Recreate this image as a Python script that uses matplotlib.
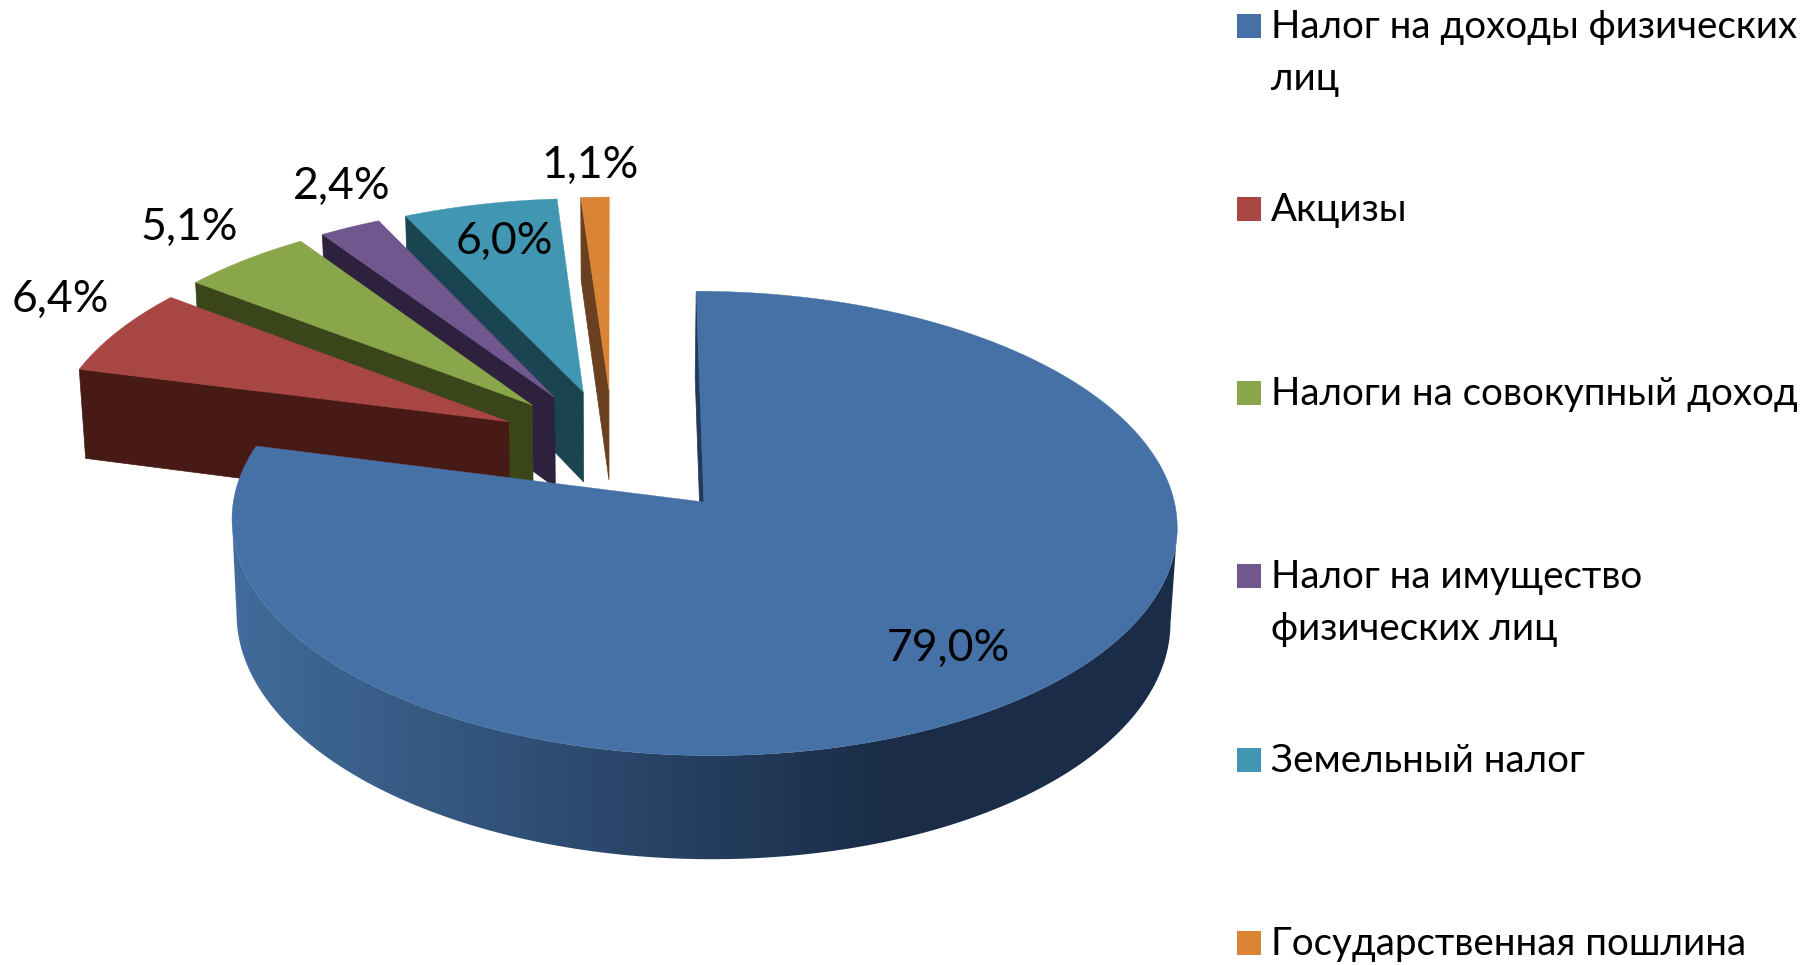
import numpy as np
import matplotlib
matplotlib.use('Agg')
import matplotlib.pyplot as plt
from matplotlib.patches import Polygon, Rectangle
from matplotlib.colors import LinearSegmentedColormap

# данные
names = ['Налог на доходы физических\nлиц', 'Акцизы', 'Налоги на совокупный доход',
         'Налог на имущество\nфизических лиц', 'Земельный налог', 'Государственная пошлина']
values = [79.0, 6.4, 5.1, 2.4, 6.0, 1.1]
top_colors = ['#4571A6', '#A84644', '#8AA64B', '#72578F', '#4197B2', '#D98535']
side_colors = ['#23395A', '#481A16', '#3A4519', '#2D213E', '#1A4450', '#6B4020']
explode = [0.315, 0.255, 0.26, 0.26, 0.26, 0.26]
label_pos = [(948, 648), (60, 299), (189, 227), (342, 186), (504, 241), (590, 165)]

plt.rcParams['font.family'] = ['Lato', 'Open Sans', 'DejaVu Sans']

# параметры перспективы (в пикселях картинки)
ox, oy = 613, 446
A, B = 460, 220
k = 0.09
D = 92
c = 0.012


def project(x, y, z):
    s = 1 / (1 + k * y)
    return ox + A * x * s * (1 - c * z), oy - B * y * s + D * z * s


def arc(t1, t2, off, z, n=200):
    t = np.radians(np.linspace(t1, t2, n))
    return project(off[0] + np.sin(t), off[1] + np.cos(t), z)


fig = plt.figure(figsize=(18.18, 9.65), dpi=100)
ax = fig.add_axes([0, 0, 1, 1])

# углы секторов по часовой стрелке от 12 часов
ends = np.cumsum(values) / sum(values) * 360
starts = np.r_[0, ends[:-1]]
rim_cmap = LinearSegmentedColormap.from_list('rim', [(0, '#416B9A'), (0.69, '#1A2C47'), (1, '#1A2C47')])

# рисуем от дальних секторов к ближнему
for i in [5, 4, 3, 2, 1, 0]:
    a1, a2 = starts[i], ends[i]
    mid = np.radians((a1 + a2) / 2)
    off = (explode[i] * np.sin(mid), explode[i] * np.cos(mid))
    ax0, ay0 = project(off[0], off[1], 0)
    bx0, by0 = project(off[0], off[1], 1)
    x1, y1 = arc(a1, a1, off, 0, 1)
    x2, y2 = arc(a1, a1, off, 1, 1)
    # боковая грань сектора
    ax.add_patch(Polygon([(ax0, ay0), (x1[0], y1[0]), (x2[0], y2[0]), (bx0, by0)],
                         fc=side_colors[i], ec=side_colors[i], lw=0.5, zorder=2))
    if i == 0:
        # внешняя кромка с градиентом, только между крайними точками контура
        tt = np.linspace(0, 360, 721)
        xs, _ = arc(0, 360, off, 0, 721)
        t_right, t_left = tt[np.argmax(xs)], tt[np.argmin(xs)]
        xa, ya = arc(t_right, t_left, off, 0)
        xb, yb = arc(t_left, t_right, off, 1)
        rim = Polygon(np.r_[np.c_[xa, ya], np.c_[xb, yb]], fc='none', ec='none', zorder=2)
        ax.add_patch(rim)
        im = ax.imshow(np.linspace(0, 1, 256).reshape(1, -1), cmap=rim_cmap, aspect='auto',
                       extent=(240, 1180, 965, 0), zorder=2)
        im.set_clip_path(rim)
        # левый край кромки левее начала градиента
        ax.add_patch(Rectangle((200, 0), 40, 965, fc='#416B9A', ec='none', zorder=2, clip_path=rim))
    tx, ty = arc(a1, a2, off, 0)
    ax.add_patch(Polygon(np.r_[[(ax0, ay0)], np.c_[tx, ty]], fc=top_colors[i], ec=top_colors[i],
                         lw=0.3, zorder=3))

ax.set_xlim(0, 1818)
ax.set_ylim(965, 0)
ax.axis('off')

# подписи долей
for v, (lx, ly) in zip(values, label_pos):
    ax.text(lx, ly, f'{v:.1f}%'.replace('.', ','), fontsize=32, ha='center', va='center',
            color='black', zorder=5)

# легенда
for i, name in enumerate(names):
    ly = 26 + 183.4 * i
    ax.add_patch(Rectangle((1237, ly - 12), 24, 24, fc=top_colors[i], ec='none'))
    ax.text(1271, ly + 12, name.split('\n')[0], fontsize=27.7, ha='left', va='baseline', color='black')
    if '\n' in name:
        ax.text(1271, ly + 64, name.split('\n')[1], fontsize=27.7, ha='left', va='baseline', color='black')

fig.savefig('out.png', dpi=100, facecolor='white')
